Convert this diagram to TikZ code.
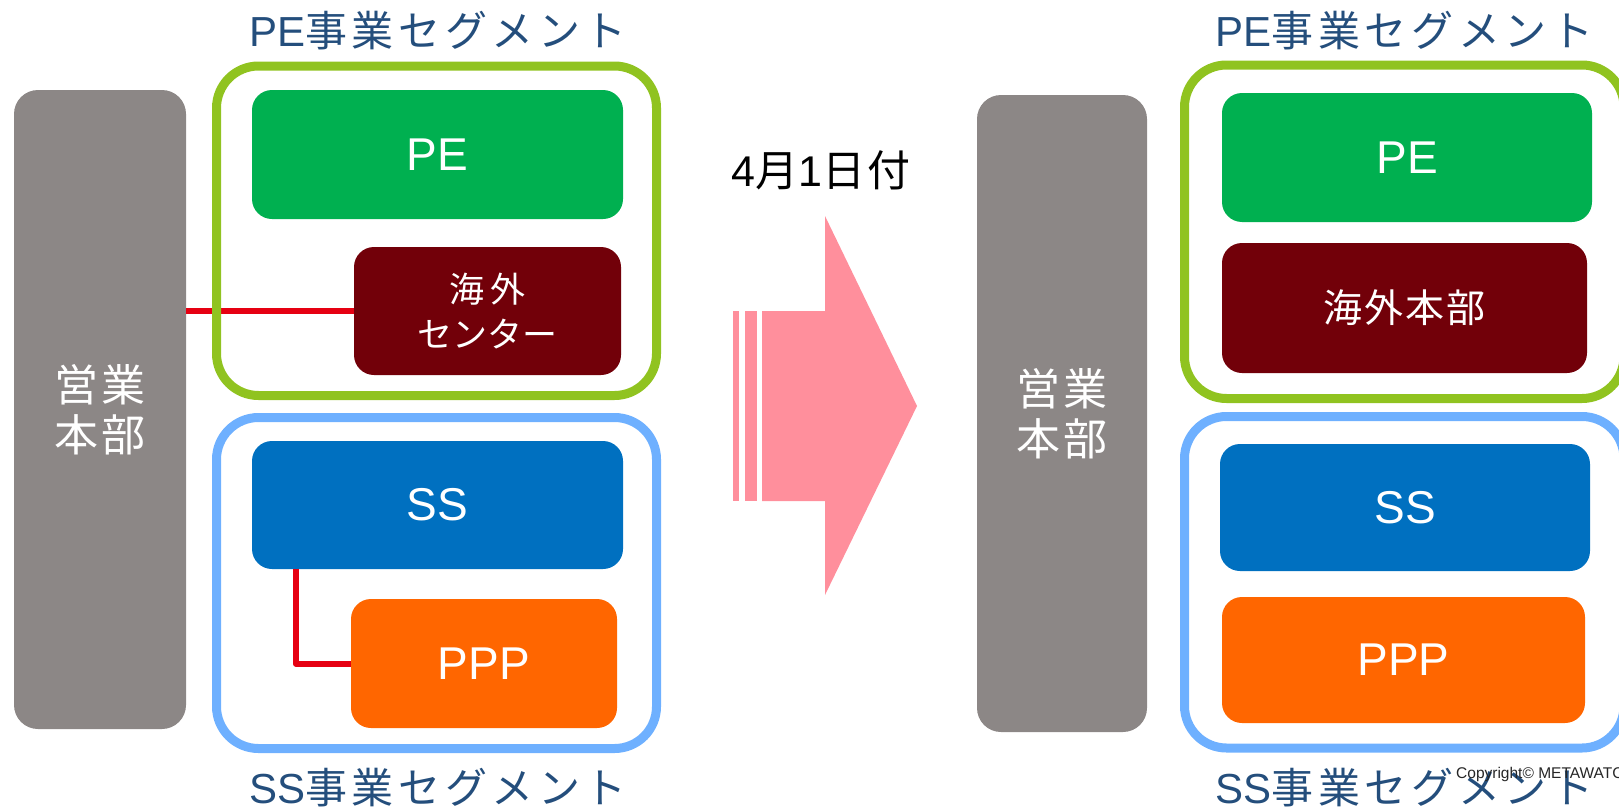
\documentclass[tikz,border=0pt]{standalone}
\usepackage{fontspec}
\setmainfont{Liberation Sans}
\newfontfamily\jp{Noto Sans CJK JP}
\newfontfamily\jpsp[LetterSpace=15]{Noto Sans CJK JP}
\newfontfamily\jptt[LetterSpace=11]{Noto Sans CJK JP}
\newfontfamily\jpdt[LetterSpace=5]{Noto Sans CJK JP}
\newfontfamily\jpss[LetterSpace=6]{Noto Sans CJK JP}
\newfontfamily\latdt[LetterSpace=5]{Liberation Sans}
\definecolor{hqgray}{RGB}{140,135,134}
\definecolor{pegreen}{RGB}{0,176,80}
\definecolor{darkred}{RGB}{114,0,9}
\definecolor{ssblue}{RGB}{0,112,192}
\definecolor{pporange}{RGB}{255,102,0}
\definecolor{seggreen}{RGB}{144,195,32}
\definecolor{segblue}{RGB}{110,176,255}
\definecolor{titleblue}{RGB}{36,78,124}
\definecolor{arrowpink}{RGB}{255,143,156}
\definecolor{linkred}{RGB}{230,0,18}
\begin{document}
\begin{tikzpicture}[x=1pt,y=-1pt,
  box/.style={rectangle, rounded corners=20pt, inner sep=0pt, text=white, align=center},
  latin/.style={font=\fontsize{46}{52}\selectfont},
  hqbox/.style={rectangle, fill=hqgray, rounded corners=24pt, inner sep=0pt, text=white, align=center, font=\jpss\fontsize{44}{50}\selectfont},
  segbox/.style={rectangle, draw, line width=9pt, rounded corners=42pt, inner sep=0pt},
  segtitle/.style={text=titleblue, font=\fontsize{42}{48}\selectfont},
  redline/.style={draw=linkred, line width=6pt, line join=round}
]
\useasboundingbox (0,0) rectangle (1619,811);
\clip (0,0) rectangle (1619,811);

% ---------- left (before) ----------
\node[hqbox, minimum width=172pt, minimum height=639pt] (hqL) at (100,409.5) {営業\\本部};

\node[box, fill=pegreen, latin, minimum width=371pt, minimum height=129pt] (peL) at (437.5,154.5) {PE};
\node[box, fill=darkred, font=\jp\fontsize{35}{45}\selectfont, minimum width=267pt, minimum height=128pt] (haiL) at (487.5,311) {{\jpsp 海外}\\センター};
\node[box, fill=ssblue, latin, minimum width=371pt, minimum height=128pt] (ssL) at (437.5,505) {SS};
\node[box, fill=pporange, latin, minimum width=266pt, minimum height=129pt] (pppL) at (484,663.5) {PPP};

\draw[redline] (hqL.east |- haiL.west) -- (haiL.west);
\draw[redline] ([xshift=44pt]ssL.south west) |- (pppL.west);

\node[segbox, draw=seggreen, minimum width=440pt, minimum height=329.5pt] (pesegL) at (436.5,230.75) {};
\node[segbox, draw=segblue, minimum width=440pt, minimum height=331pt] (sssegL) at (436.5,583) {};

\node[segtitle] (petitleL) at (438,31) {PE{\jptt 事業セグメント}};
\node[segtitle] (sstitleL) at (438,788) {SS{\jptt 事業セグメント}};

% ---------- arrow ----------
\node[font=\fontsize{43}{48}\selectfont] (date) at (821,170) {{\latdt 4}{\jpdt 月}{\latdt 1}{\jpdt 日付}};
\fill[arrowpink] (762,311) -- (825,311) -- (825,216) -- (917,406) -- (825,595) -- (825,501) -- (762,501) -- cycle;
\fill[arrowpink] (745,311) rectangle (757,501);
\fill[arrowpink] (733,311) rectangle (739,501);

% ---------- right (after) ----------
\node[hqbox, minimum width=170pt, minimum height=637pt] (hqR) at (1062,413.5) {営業\\本部};

\node[box, fill=pegreen, latin, minimum width=370pt, minimum height=129pt] (peR) at (1407,157.5) {PE};
\node[box, fill=darkred, font=\jpss\fontsize{39}{44}\selectfont, minimum width=365pt, minimum height=130pt] (haiR) at (1404.5,308) {海外本部};
\node[box, fill=ssblue, latin, minimum width=370pt, minimum height=127pt] (ssR) at (1405,507.5) {SS};
\node[box, fill=pporange, latin, minimum width=363pt, minimum height=126pt] (pppR) at (1403.5,660) {PPP};

\node[segbox, draw=seggreen, minimum width=439.5pt, minimum height=333.5pt] (pesegR) at (1404.25,231.75) {};
\node[segbox, draw=segblue, minimum width=439.5pt, minimum height=331.5pt] (sssegR) at (1404.25,582.25) {};

\node[segtitle] (petitleR) at (1404.5,31) {PE{\jptt 事業セグメント}};
\node[segtitle] (sstitleR) at (1404.5,788) {SS{\jptt 事業セグメント}};

\node[anchor=west, inner sep=0pt, text=black!85, font=\fontsize{15.5}{17}\selectfont] (copy) at (1456,774) {Copyright© METAWATCH};
\end{tikzpicture}
\end{document}
